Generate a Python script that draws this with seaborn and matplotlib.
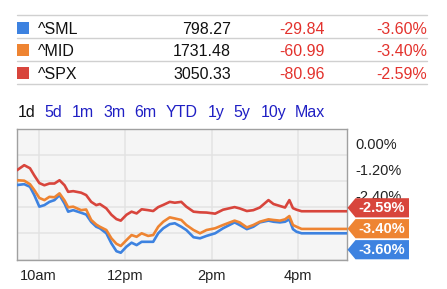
import numpy as np
import pandas as pd
import matplotlib
matplotlib.use("Agg")
import matplotlib.pyplot as plt
import matplotlib.transforms as mtrans
from matplotlib.patches import Polygon, Rectangle
from matplotlib.lines import Line2D
import seaborn as sns

# ---------------- data ----------------
times = ["09:30", "09:40", "09:48", "09:54", "10:01", "10:08", "10:15", "10:22",
         "10:29", "10:36", "10:41", "10:48", "10:59", "11:06", "11:13", "11:20",
         "11:25", "11:34", "11:41", "11:48", "11:54", "12:02", "12:09", "12:16",
         "12:23", "12:32", "12:39", "12:46", "12:53", "13:02", "13:09", "13:18",
         "13:25", "13:35", "13:44", "13:53", "14:05", "14:16", "14:32", "14:39",
         "14:49", "14:58", "15:07", "15:19", "15:26", "15:35", "15:42", "15:48",
         "15:53", "15:58", "16:05", "17:08"]
spx = [-0.71, -0.48, -0.62, -0.95, -1.30, -1.40, -1.32, -1.32, -1.17, -1.40,
       -1.70, -1.67, -1.74, -1.85, -2.16, -2.31, -2.26, -2.46, -2.75, -2.95,
       -3.02, -2.75, -2.61, -2.69, -2.50, -2.54, -2.58, -2.40, -2.30, -2.16,
       -2.20, -2.16, -2.38, -2.61, -2.64, -2.65, -2.70, -2.52, -2.40, -2.46,
       -2.58, -2.54, -2.42, -2.08, -2.26, -2.35, -2.42, -2.08, -2.45, -2.52,
       -2.59, -2.59]
mid = [-1.17, -1.19, -1.35, -1.62, -1.98, -2.08, -1.93, -1.95, -1.77, -2.10,
       -2.41, -2.38, -2.54, -2.51, -2.99, -3.20, -3.30, -3.45, -3.83, -4.08,
       -4.18, -3.91, -3.68, -3.76, -3.60, -3.72, -3.68, -3.30, -3.07, -2.87,
       -2.92, -2.99, -3.22, -3.45, -3.60, -3.45, -3.37, -3.22, -3.02, -3.10,
       -3.33, -3.22, -3.07, -2.96, -2.99, -3.02, -2.96, -2.81, -3.22, -3.30,
       -3.40, -3.40]
sml = [-1.39, -1.35, -1.47, -1.85, -2.38, -2.31, -2.16, -2.08, -1.85, -2.24,
       -2.61, -2.54, -2.66, -2.74, -3.08, -3.30, -3.37, -3.60, -4.06, -4.42,
       -4.49, -4.21, -4.03, -4.14, -3.99, -3.99, -3.99, -3.60, -3.37, -3.18,
       -3.14, -3.30, -3.45, -3.78, -3.83, -3.72, -3.60, -3.37, -3.10, -3.22,
       -3.41, -3.30, -3.10, -3.02, -3.07, -3.10, -3.07, -2.96, -3.41, -3.53,
       -3.60, -3.60]

symbols = ["^SML", "^MID", "^SPX"]
prices = ["798.27", "1731.48", "3050.33"]
changes = ["-29.84", "-60.99", "-80.96"]
pct_changes = ["-3.60%", "-3.40%", "-2.59%"]
last_values = [-3.60, -3.40, -2.59]
periods = ["1d", "5d", "1m", "3m", "6m", "YTD", "1y", "5y", "10y", "Max"]
x_tick_times = ["10:00", "12:00", "14:00", "16:00"]
x_tick_labels = ["10am", "12pm", "2pm", "4pm"]
y_grid_values = [0.0, -1.2, -2.4, -3.6, -4.8]
y_label_values = [0.0, -1.2, -2.4]

colors = {"^SML": "#3d82e0", "^MID": "#ee8432", "^SPX": "#d8453c"}


def to_min(t):
    h, m = t.split(":")
    return (int(h) - 9) * 60 + int(m) - 30


df = pd.DataFrame({
    "minute": [to_min(t) for t in times] * 3,
    "pct": sml + mid + spx,
    "symbol": ["^SML"] * len(times) + ["^MID"] * len(times) + ["^SPX"] * len(times),
})

# ---------------- figure ----------------
sns.set_style("white")
plt.rcParams["font.family"] = ["Liberation Sans", "DejaVu Sans"]

W, H = 447, 289
fig = plt.figure(figsize=(W / 100, H / 100), dpi=100)
fig.patch.set_facecolor("white")


def fx(x):
    return x / W


def fy(y):
    return 1 - y / H


ax_l, ax_r, ax_t, ax_b = 17, 347, 128.5, 259.5
ax = fig.add_axes([fx(ax_l), fy(ax_b), fx(ax_r - ax_l), (ax_b - ax_t) / H])
ax.set_facecolor("#f5f5f5")

sns.lineplot(data=df, x="minute", y="pct", hue="symbol",
             hue_order=symbols, palette=colors, linewidth=1.9,
             legend=False, ax=ax, zorder=3)

ax.set_xlim(0, 458)
ax.set_ylim(-4.8, 1.2)
xt = [to_min(t) for t in x_tick_times]
ax.set_xticks(xt)
ax.set_xticklabels(x_tick_labels, fontsize=10.5, color="#222222")
ax.set_yticks(y_grid_values)
ax.set_yticklabels([])
ax.tick_params(axis="both", length=0)
ax.tick_params(axis="x", pad=7)
ax.grid(True, color="#e3e3e3", linewidth=1.1)
ax.set_xlabel("")
ax.set_ylabel("")
for s in ax.spines.values():
    s.set_color("#a0a0a0")
    s.set_linewidth(1.0)

# right side y labels, just above their grid lines
trans = mtrans.blended_transform_factory(ax.transAxes, ax.transData)
for v in y_label_values:
    lab = "0.00%" if v == 0 else f"{v:.2f}%"
    ax.annotate(lab, xy=(1, v), xycoords=trans, xytext=(6, 2),
                textcoords="offset points", ha="left", va="bottom",
                fontsize=10.5, color="#222222", annotation_clip=False, zorder=1)

# flags
flag_centers = [249.7, 228.7, 207.8]
for sym, val, lab, cy in zip(symbols, last_values, pct_changes, flag_centers):
    h = 9.6
    pts = [(fx(347.5), fy(cy)), (fx(355.5), fy(cy - h)), (fx(409), fy(cy - h)),
           (fx(409), fy(cy + h)), (fx(355.5), fy(cy + h))]
    fig.add_artist(Polygon(pts, closed=True, transform=fig.transFigure,
                           facecolor=colors[sym], edgecolor="none", zorder=5))
    fig.text(fx(381.5), fy(cy + 0.3), lab, ha="center", va="center",
             fontsize=10.5, fontweight="bold", color="white", zorder=6)

# ---------------- header table ----------------
for y in [15, 38.3, 61, 84]:
    fig.add_artist(Line2D([fx(17), fx(427)], [fy(y), fy(y)],
                          transform=fig.transFigure, color="#d0d0d0", linewidth=1.0))
row_y = [27.5, 50.2, 73]
for sym, pr, ch, pc, ry in zip(symbols, prices, changes, pct_changes, row_y):
    fig.add_artist(Rectangle((fx(17), fy(ry + 6)), fx(12), 12 / H,
                             transform=fig.transFigure, facecolor=colors[sym],
                             edgecolor="none"))
    fig.text(fx(38), fy(ry), sym, ha="left", va="center_baseline",
             fontsize=11.5, color="#111111")
    fig.text(fx(231), fy(ry), pr, ha="right", va="center_baseline",
             fontsize=11.5, color="#111111")
    fig.text(fx(325), fy(ry), ch, ha="right", va="center_baseline",
             fontsize=11.5, color="#e3322d")
    fig.text(fx(427), fy(ry), pc, ha="right", va="center_baseline",
             fontsize=11.5, color="#e3322d")

# period selector
period_x = [18, 44, 72, 103, 134, 166, 208, 233, 261, 295]
for p, px in zip(periods, period_x):
    fig.text(fx(px), fy(110.7), p, ha="left", va="center_baseline",
             fontsize=11.5, color="#111111" if p == "1d" else "#1f1fc4")

fig.savefig("out.png", dpi=100)
